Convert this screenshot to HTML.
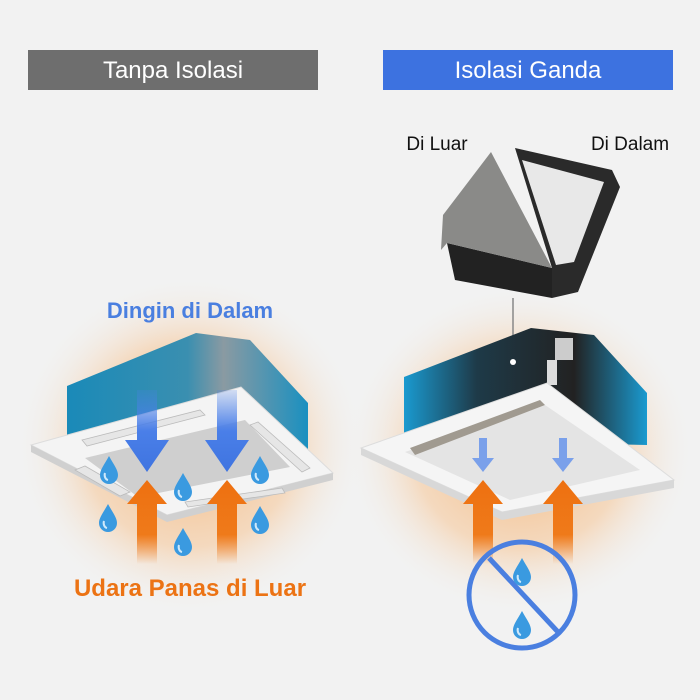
<!DOCTYPE html>
<html><head><meta charset="utf-8"><style>
html,body{margin:0;padding:0;background:#f2f2f2;}
svg{display:block;}
text{font-family:"Liberation Sans",sans-serif;}
</style></head><body>
<svg width="700" height="700" viewBox="0 0 700 700" xmlns="http://www.w3.org/2000/svg">
<defs>
<radialGradient id="glow" cx="50%" cy="50%" r="50%">
<stop offset="0" stop-color="#f5a860" stop-opacity="0.8"/>
<stop offset="0.6" stop-color="#f6c08a" stop-opacity="0.5"/>
<stop offset="1" stop-color="#f2f2f2" stop-opacity="0"/>
</radialGradient>
<linearGradient id="boxL" x1="0" y1="0" x2="1" y2="0">
<stop offset="0" stop-color="#1a8ab8"/><stop offset="0.5" stop-color="#3a8fb0"/><stop offset="0.65" stop-color="#8a9aa2"/><stop offset="1" stop-color="#1a90c0"/>
</linearGradient>
<linearGradient id="boxR" x1="0" y1="0" x2="1" y2="0">
<stop offset="0" stop-color="#1a9ad0"/><stop offset="0.3" stop-color="#1e3a48"/><stop offset="0.7" stop-color="#222"/><stop offset="1" stop-color="#1a9ad0"/>
</linearGradient>
<linearGradient id="up" x1="0" y1="1" x2="0" y2="0">
<stop offset="0" stop-color="#ef7a1a" stop-opacity="0"/><stop offset="0.35" stop-color="#ef7a1a"/><stop offset="1" stop-color="#ee7010"/>
</linearGradient>
<linearGradient id="down" x1="0" y1="0" x2="0" y2="1">
<stop offset="0" stop-color="#4a80ea" stop-opacity="0.2"/><stop offset="0.5" stop-color="#4a7fe8"/><stop offset="1" stop-color="#3f74e0"/>
</linearGradient>
<g id="drop"><path d="M0,-14 C5,-5 9,0 9,5 A9,9 0 0 1 -9,5 C-9,0 -5,-5 0,-14Z" fill="#3a9ae0"/><path d="M-4,3 A4,5 0 0 0 -1,10" stroke="#cfe9fb" stroke-width="2" fill="none"/></g>
<g id="uparrow"><path d="M-10,70 L-10,10 L-20,10 L0,-14 L20,10 L10,10 L10,70Z" fill="url(#up)"/></g>
</defs>
<rect width="700" height="700" fill="#f2f2f2"/>
<rect x="28" y="50" width="290" height="40" fill="#6e6e6e"/>
<text x="173" y="78" font-size="24" fill="#fff" text-anchor="middle">Tanpa Isolasi</text>
<rect x="383" y="50" width="290" height="40" fill="#3d72e0"/>
<text x="528" y="78" font-size="24" fill="#fff" text-anchor="middle">Isolasi Ganda</text>
<ellipse cx="190" cy="445" rx="175" ry="170" fill="url(#glow)"/>
<ellipse cx="520" cy="450" rx="175" ry="165" fill="url(#glow)"/>
<text x="190" y="318" font-size="22" font-weight="bold" fill="#4a7fe0" text-anchor="middle">Dingin di Dalam</text>
<polygon points="67,386 196,333 250,340 308,403 308,460 67,460" fill="url(#boxL)"/>
<polygon points="31,445 241,387 333,473 167,515" fill="#f4f4f4" stroke="#ddd"/>
<polygon points="31,445 167,515 333,473 333,480 167,522 31,452" fill="#d0d0d0"/>
<polygon points="85,458 245,420 290,467 138,497" fill="#cfcfcf"/>
<polygon points="82,440 200,410 205,415 87,446" fill="#e6e6e6" stroke="#bbb" stroke-width="0.8"/>
<polygon points="75,470 85,466 130,492 120,496" fill="#e6e6e6" stroke="#bbb" stroke-width="0.8"/>
<polygon points="250,425 258,422 310,468 302,472" fill="#e6e6e6" stroke="#bbb" stroke-width="0.8"/>
<polygon points="185,502 282,488 285,493 188,507" fill="#e6e6e6" stroke="#bbb" stroke-width="0.8"/>
<path d="M137,390 L137,440 L125,440 L147,472 L169,440 L157,440 L157,390Z" fill="url(#down)"/>
<path d="M217,390 L217,440 L205,440 L227,472 L249,440 L237,440 L237,390Z" fill="url(#down)"/>
<use href="#uparrow" x="147" y="494"/>
<use href="#uparrow" x="227" y="494"/>
<use href="#drop" x="109" y="470"/>
<use href="#drop" x="260" y="470"/>
<use href="#drop" x="183" y="487"/>
<use href="#drop" x="108" y="518"/>
<use href="#drop" x="260" y="520"/>
<use href="#drop" x="183" y="542"/>
<text x="190" y="596" font-size="24" font-weight="bold" fill="#ec7314" text-anchor="middle">Udara Panas di Luar</text>
<text x="437" y="150" font-size="19" fill="#111" text-anchor="middle">Di Luar</text>
<text x="630" y="150" font-size="19" fill="#111" text-anchor="middle">Di Dalam</text>
<polygon points="515,148 612,170 620,187 578,292 552,298 552,268" fill="#2a2a2a"/>
<polygon points="522,160 604,182 574,262 556,265" fill="#e8e8e8"/>
<polygon points="447,243 552,268 552,298 455,280" fill="#222"/>
<polygon points="443,215 441,250 447,243 552,268 491,152" fill="#8a8a88"/>
<line x1="513" y1="298" x2="513" y2="362" stroke="#888" stroke-width="1.5"/>
<polygon points="404,377 531,328 594,335 647,393 647,445 404,440" fill="url(#boxR)"/>
<circle cx="513" cy="362" r="3" fill="#fff"/>
<rect x="555" y="338" width="18" height="22" fill="#ccc"/>
<rect x="547" y="360" width="10" height="25" fill="#ddd"/>
<polygon points="361,448 547,383 674,480 502,512" fill="#f5f5f5" stroke="#ddd"/>
<polygon points="361,448 502,512 674,480 674,488 502,520 361,455" fill="#d8d8d8"/>
<polygon points="405,452 545,405 640,470 510,500" fill="#e4e4e4"/>
<polygon points="410,448 540,400 545,405 415,455" fill="#a09a90"/>
<path d="M479,438 L479,458 L472,458 L483,472 L494,458 L487,458 L487,438Z" fill="#7aa0ea"/>
<path d="M559,438 L559,458 L552,458 L563,472 L574,458 L567,458 L567,438Z" fill="#7aa0ea"/>
<use href="#uparrow" x="483" y="494"/>
<use href="#uparrow" x="563" y="494"/>
<ellipse cx="522" cy="595" rx="53" ry="53" fill="none" stroke="#4a7fe0" stroke-width="5"/>
<line x1="489" y1="558" x2="558" y2="632" stroke="#4a7fe0" stroke-width="5"/>
<use href="#drop" x="522" y="572"/>
<use href="#drop" x="522" y="625"/>
</svg>
</body></html>
